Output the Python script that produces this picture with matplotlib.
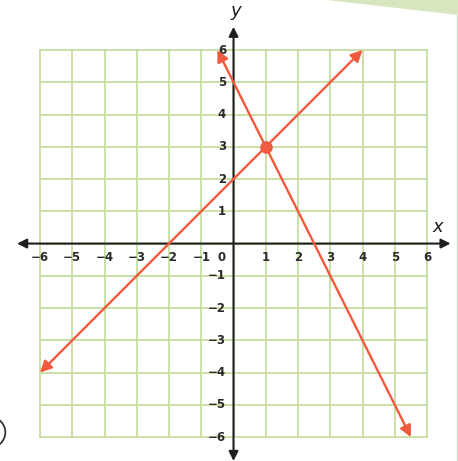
import matplotlib
matplotlib.use("Agg")
import matplotlib.pyplot as plt
from matplotlib.patches import Polygon, Arc

# data
ticks = [-6, -5, -4, -3, -2, -1, 1, 2, 3, 4, 5, 6]
line1_x = [-6, 4]      # y = x + 2
line1_y = [-4, 6]
line2_x = [-0.5, 5.5]  # y = -2x + 5
line2_y = [6, -6]
point_x = [1]
point_y = [3]

RED = "#f05a3e"
GRID = "#c6dea0"
INK = "#1e1e1e"

fig = plt.figure(figsize=(4.58, 4.61), dpi=100)
ax = fig.add_axes([0, 0, 1, 1])
ax.set_xlim(-7.24, 6.96)
ax.set_ylim(-6.74, 7.55)
ax.axis("off")

# grid
for v in range(-6, 7):
    ax.plot([v, v], [-6, 6], color=GRID, lw=1.3, zorder=1)
    ax.plot([-6, 6], [v, v], color=GRID, lw=1.3, zorder=1)

# axes with arrows
ax.annotate("", xy=(6.73, 0), xytext=(-6.71, 0),
            arrowprops=dict(arrowstyle="<|-|>", color=INK, lw=1.5,
                            mutation_scale=14, shrinkA=0, shrinkB=0), zorder=3)
ax.annotate("", xy=(0, 6.72), xytext=(0, -6.74),
            arrowprops=dict(arrowstyle="<|-|>", color=INK, lw=1.5,
                            mutation_scale=14, shrinkA=0, shrinkB=0), zorder=3)

# tick labels
tk = dict(fontsize=8.5, color="#2a2a2a", fontweight="bold")
for t in ticks:
    lab = str(t).replace("-", "\u2212")
    ax.text(t, -0.42, lab, ha="center", va="center", **tk)
    ax.text(-0.23, t, lab, ha="right", va="center", **tk)
ax.text(-0.36, -0.42, "0", ha="center", va="center", **tk)

ax.text(6.34, 0.5, "x", ha="center", va="center", fontsize=13, style="italic",
        color=INK)
ax.text(0.08, 7.2, "y", ha="center", va="center", fontsize=13, style="italic",
        color=INK)

# the two lines
for xs, ys in [(line1_x, line1_y), (line2_x, line2_y)]:
    ax.annotate("", xy=(xs[1], ys[1]), xytext=(xs[0], ys[0]),
                arrowprops=dict(arrowstyle="<|-|>", color=RED, lw=1.7,
                                mutation_scale=17, shrinkA=0, shrinkB=0), zorder=4)
ax.plot(point_x, point_y, "o", color=RED, markersize=8, zorder=5)

# decorations at the page edges
ax.add_patch(Polygon([(2.9, 7.55), (6.96, 7.55), (6.96, 7.08)], closed=True,
                     facecolor="#d8e6c0", edgecolor="none", zorder=0))
ax.plot([6.93, 6.93], [-6.74, 7.08], color="#d0dcc0", lw=1.0, zorder=0)
ax.add_patch(Arc((-7.55, -5.85), 0.95, 0.95, theta1=-90, theta2=90,
                 color="#333333", lw=1.3, zorder=2))

fig.savefig("out.png", dpi=100)
